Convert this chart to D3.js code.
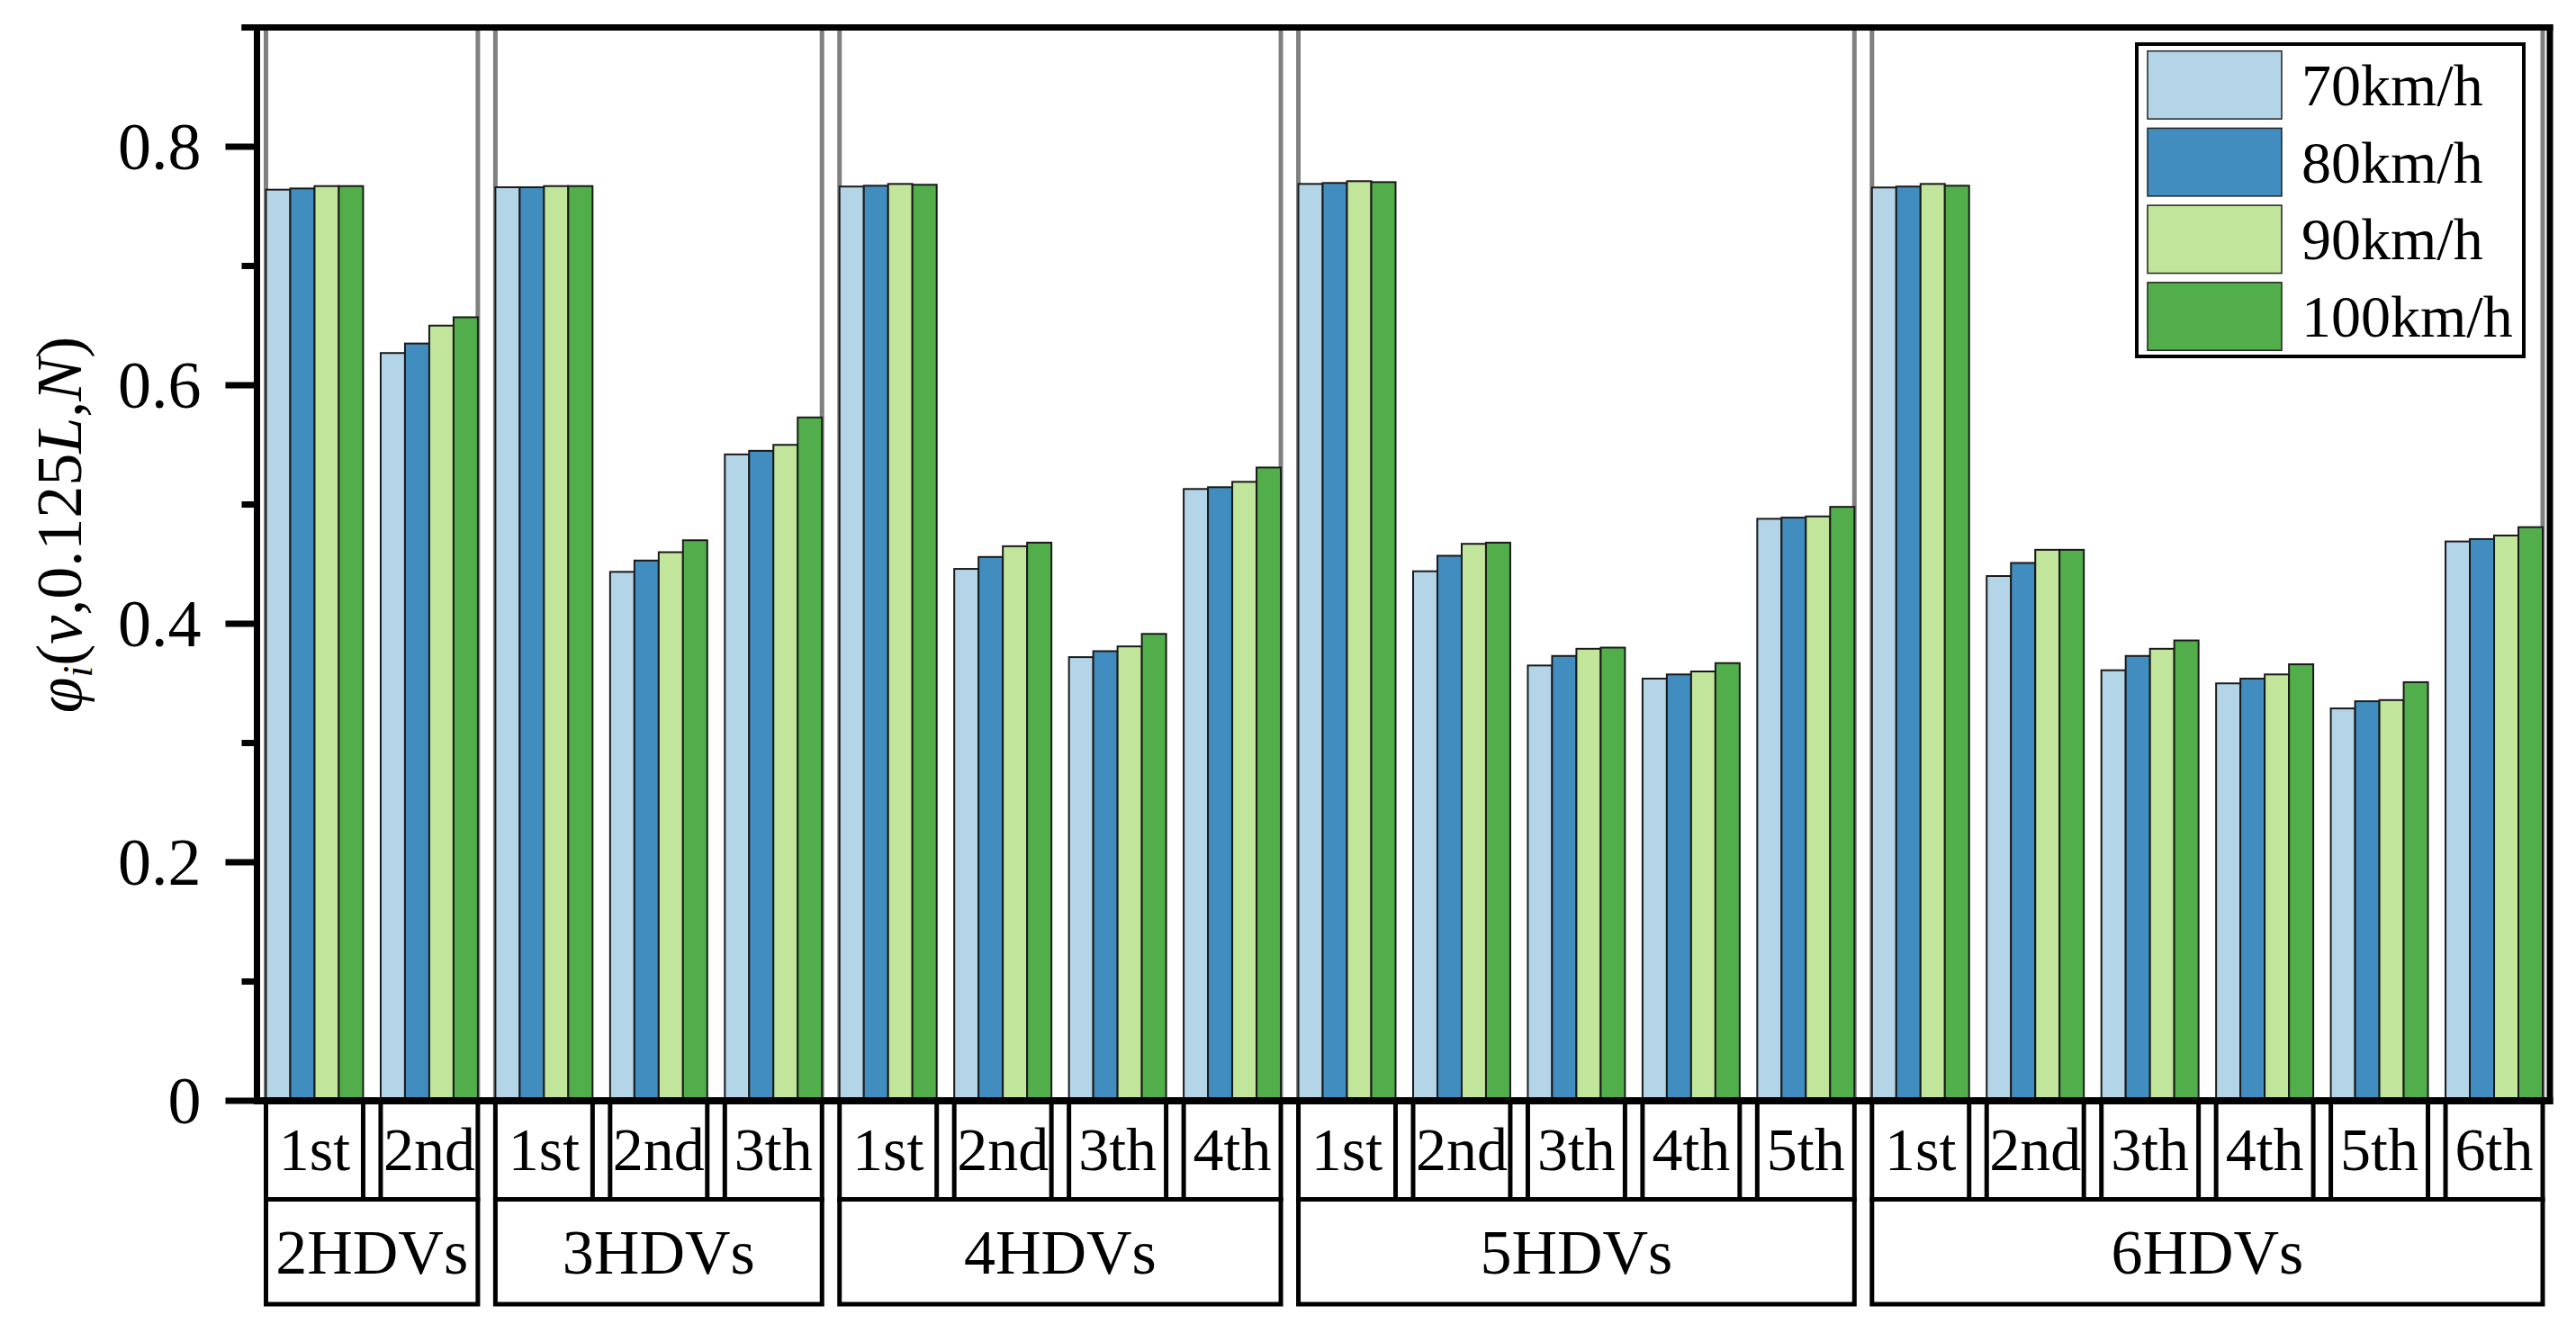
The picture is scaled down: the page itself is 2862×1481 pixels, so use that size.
<!DOCTYPE html>
<html>
<head>
<meta charset="utf-8">
<script src="https://cdn.jsdelivr.net/npm/d3@7"></script>
<style>
  html, body { margin: 0; padding: 0; background: #fff; }
  svg { display: block; }
  text { font-family: "Liberation Serif", "Times New Roman", serif; fill: #000; }
</style>
</head>
<body>
<svg id="chart" width="2862" height="1481"></svg>
<script>
// ---- data ----
const groups = ["2HDVs", "3HDVs", "4HDVs", "5HDVs", "6HDVs"];
const groupSizes = [2, 3, 4, 5, 6];
const positionLabels = ["1st", "2nd", "3th", "4th", "5th", "6th"];
const seriesNames = ["70km/h", "80km/h", "90km/h", "100km/h"];
const seriesColors = ["#b4d5e8", "#418dbf", "#c0e59b", "#52ae4a"];
const v70  = [0.764, 0.627, 0.766, 0.4435, 0.542, 0.7666, 0.446, 0.372, 0.513, 0.7688, 0.444, 0.365, 0.354, 0.488, 0.7658, 0.440, 0.361, 0.350, 0.329, 0.469];
const v80  = [0.765, 0.635, 0.766, 0.453, 0.545, 0.7673, 0.456, 0.377, 0.5145, 0.7696, 0.457, 0.373, 0.3575, 0.489, 0.7666, 0.451, 0.373, 0.354, 0.335, 0.471];
const v90  = [0.767, 0.650, 0.767, 0.460, 0.550, 0.7688, 0.465, 0.381, 0.519, 0.7711, 0.467, 0.379, 0.360, 0.490, 0.7688, 0.462, 0.379, 0.3575, 0.336, 0.474];
const v100 = [0.767, 0.657, 0.767, 0.470, 0.573, 0.7681, 0.468, 0.3915, 0.531, 0.7703, 0.468, 0.380, 0.367, 0.498, 0.7673, 0.462, 0.386, 0.366, 0.351, 0.481];
const yMajorTicks = [0, 0.2, 0.4, 0.6, 0.8];
const yMinorTicks = [0.1, 0.3, 0.5, 0.7, 0.9];
const yTickLabels = ["0", "0.2", "0.4", "0.6", "0.8"];

// ---- build categories ----
const cats = [];
groups.forEach((g, gi) => {
  for (let k = 0; k < groupSizes[gi]; k++) {
    cats.push({ id: g + "-" + k, group: g, gi: gi, label: positionLabels[k] });
  }
});
const seriesVals = [v70, v80, v90, v100];
cats.forEach((c, i) => { c.values = seriesVals.map(s => s[i]); });

// ---- layout ----
const svg = d3.select("#chart");
const plotTop = 30.5, plotBottom = 1223;
const barLeft = 295.5, barRight = 2825;
const axisLeftX = 285.5, axisRightX = 2833;

const y = d3.scaleLinear().domain([0, 0.9]).range([plotBottom, plotTop]);
const x = d3.scaleBand().domain(cats.map(c => c.id)).range([barLeft, barRight])
  .paddingInner(0.153).paddingOuter(0);
const xs = d3.scaleBand().domain(d3.range(4)).range([0, x.bandwidth()]).padding(0);

// panel gray borders
groups.forEach((g, gi) => {
  const gc = cats.filter(c => c.gi === gi);
  const x0 = x(gc[0].id), x1 = x(gc[gc.length - 1].id) + x.bandwidth();
  [x0, x1].forEach(px => {
    svg.append("line").attr("x1", px).attr("x2", px)
      .attr("y1", plotTop).attr("y2", plotBottom)
      .attr("stroke", "#808080").attr("stroke-width", 5);
  });
});

// bars
const catG = svg.append("g").selectAll("g").data(cats).join("g")
  .attr("transform", d => `translate(${x(d.id)},0)`);
catG.selectAll("rect").data(d => d.values.map((v, si) => ({ v, si }))).join("rect")
  .attr("x", d => xs(d.si))
  .attr("y", d => y(d.v))
  .attr("width", xs.bandwidth())
  .attr("height", d => y(0) - y(d.v))
  .attr("fill", d => seriesColors[d.si])
  .attr("stroke", "#1a1a1a").attr("stroke-width", 2);

// frame
svg.append("line").attr("x1", axisLeftX - 17).attr("x2", axisRightX + 3.5)
  .attr("y1", plotTop).attr("y2", plotTop).attr("stroke", "#000").attr("stroke-width", 7);
svg.append("line").attr("x1", axisLeftX).attr("x2", axisLeftX)
  .attr("y1", plotTop - 3.5).attr("y2", plotBottom + 4).attr("stroke", "#000").attr("stroke-width", 7);
svg.append("line").attr("x1", axisRightX).attr("x2", axisRightX)
  .attr("y1", plotTop - 3.5).attr("y2", plotBottom + 4).attr("stroke", "#000").attr("stroke-width", 7);
svg.append("line").attr("x1", axisLeftX).attr("x2", axisRightX + 3.5)
  .attr("y1", plotBottom).attr("y2", plotBottom).attr("stroke", "#000").attr("stroke-width", 8);

// y axis ticks
const yAxisG = svg.append("g").attr("transform", `translate(${axisLeftX},0)`);
yAxisG.selectAll(".maj").data(yMajorTicks).join("line")
  .attr("x1", -35).attr("x2", 0).attr("y1", d => y(d)).attr("y2", d => y(d))
  .attr("stroke", "#000").attr("stroke-width", 7);
yAxisG.selectAll(".min").data(yMinorTicks).join("line")
  .attr("x1", -17).attr("x2", 0).attr("y1", d => y(d)).attr("y2", d => y(d))
  .attr("stroke", "#000").attr("stroke-width", 7);
yAxisG.selectAll("text").data(yMajorTicks).join("text")
  .attr("x", -62).attr("y", d => y(d)).attr("dy", "0.34em")
  .attr("text-anchor", "end").attr("font-size", 74)
  .text((d, i) => yTickLabels[i]);

// y label
const yl = svg.append("text").attr("transform", "translate(90,583) rotate(-90)")
  .attr("text-anchor", "middle").attr("font-size", 72);
yl.append("tspan").attr("font-style", "italic").text("φ");
yl.append("tspan").attr("font-style", "italic").attr("font-size", 46).attr("dy", 12).text("i");
yl.append("tspan").attr("dy", -12).text("(");
yl.append("tspan").attr("font-style", "italic").text("v");
yl.append("tspan").text(",0.125");
yl.append("tspan").attr("font-style", "italic").text("L");
yl.append("tspan").text(",");
yl.append("tspan").attr("font-style", "italic").text("N");
yl.append("tspan").text(")");

// x category boxes (row 1)
const row1Top = plotBottom, row1Bot = 1332.5, row2Bot = 1449;
const boxG = svg.append("g");
boxG.selectAll(".b1").data(cats).join("path")
  .attr("d", d => {
    const a = x(d.id), b = a + x.bandwidth();
    return `M${a},${row1Top}V${row1Bot}H${b}V${row1Top}`;
  })
  .attr("fill", "none").attr("stroke", "#000").attr("stroke-width", 5);
boxG.selectAll(".t1").data(cats).join("text")
  .attr("x", d => x(d.id) + x.bandwidth() / 2).attr("y", 1300)
  .attr("text-anchor", "middle").attr("font-size", 68).text(d => d.label);

// group boxes (row 2)
groups.forEach((g, gi) => {
  const gc = cats.filter(c => c.gi === gi);
  const a = x(gc[0].id), b = x(gc[gc.length - 1].id) + x.bandwidth();
  boxG.append("path").attr("d", `M${a},${row1Bot}V${row2Bot}H${b}V${row1Bot}Z`)
    .attr("fill", "none").attr("stroke", "#000").attr("stroke-width", 5);
  boxG.append("text").attr("x", (a + b) / 2).attr("y", 1415)
    .attr("text-anchor", "middle").attr("font-size", 70).text(g);
});

// legend
const lg = svg.append("g");
lg.append("rect").attr("x", 2374).attr("y", 49).attr("width", 430).attr("height", 347)
  .attr("fill", "#fff").attr("stroke", "#000").attr("stroke-width", 4);
const ly = d3.scaleBand().domain(d3.range(4)).range([55, 391]).paddingInner(0.12).paddingOuter(0.02);
seriesNames.forEach((n, i) => {
  lg.append("rect").attr("x", 2386).attr("y", ly(i)).attr("width", 149).attr("height", ly.bandwidth())
    .attr("fill", seriesColors[i]).attr("stroke", "#222").attr("stroke-width", 1.5);
  lg.append("text").attr("x", 2557).attr("y", ly(i) + ly.bandwidth() / 2).attr("dy", "0.34em")
    .attr("font-size", 66).text(n);
});
</script>
</body>
</html>
